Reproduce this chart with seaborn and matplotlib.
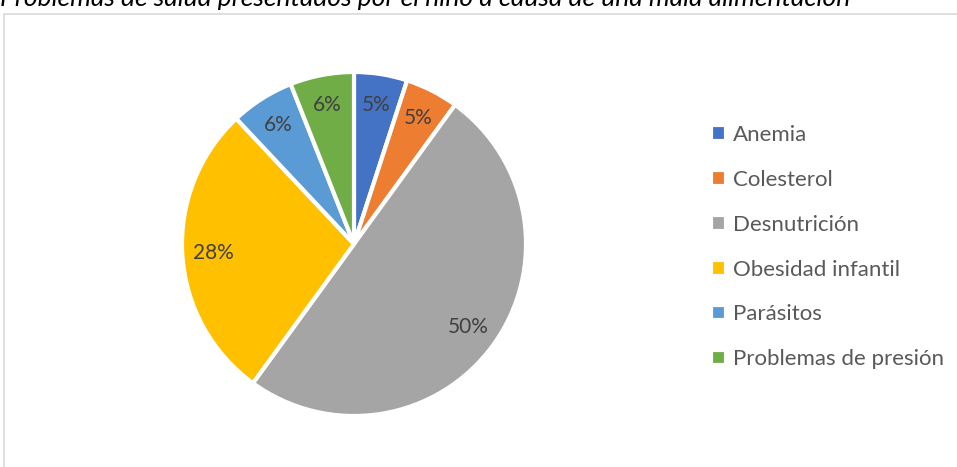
import matplotlib
matplotlib.use("Agg")
import matplotlib.pyplot as plt
import seaborn as sns
from matplotlib.patches import Rectangle

# Health problems reported in children due to poor nutrition
categories = ["Anemia", "Colesterol", "Desnutrición", "Obesidad infantil",
              "Parásitos", "Problemas de presión"]
percentages = [5, 5, 50, 28, 6, 6]
colors = ["#4472C4", "#ED7D31", "#A5A5A5", "#FFC000", "#5B9BD5", "#70AD47"]
title = "Problemas de salud presentados por el niño a causa de una mala alimentación"

sns.set_theme(style="white")
plt.rcParams["font.family"] = ["Lato", "DejaVu Sans"]

W, H = 957, 467
fig = plt.figure(figsize=(W / 100, H / 100), dpi=100)
fig.patch.set_facecolor("white")

# chart area frame (left and top edges visible)
fig.patches.append(Rectangle((4 / W, -0.1), 1.2, 1 - 14 / H + 0.1,
                             transform=fig.transFigure, fill=False,
                             edgecolor="#D9D9D9", linewidth=1.2))

# pie axes: center (354, 244) px, radius 172 px
cx, cy, r = 354, 244, 172
ax = fig.add_axes([(cx - r) / W, (H - cy - r) / H, 2 * r / W, 2 * r / H])
palette = sns.color_palette(colors)
wedges, texts, autotexts = ax.pie(
    percentages, colors=palette, startangle=90, counterclock=False,
    autopct=lambda p: f"{p:.0f}%", pctdistance=0.82,
    wedgeprops=dict(edgecolor="white", linewidth=3),
    textprops=dict(color="#404040", fontsize=15))
ax.set_xlim(-1, 1)
ax.set_ylim(-1, 1)
ax.set_aspect("equal")
ax.axis("off")

fig.legend(wedges, categories, loc="upper left",
           bbox_to_anchor=(702 / W, 1 - 116 / H), frameon=False,
           fontsize=16, labelcolor="#595959", handlelength=0.7,
           handleheight=0.7, handletextpad=0.3, labelspacing=1.12,
           borderaxespad=0)

fig.text(0.0, 1 - 6 / H, title, fontsize=19, style="italic",
         color="#000000", va="baseline", ha="left")

fig.savefig("out.png", dpi=100, facecolor="white")
